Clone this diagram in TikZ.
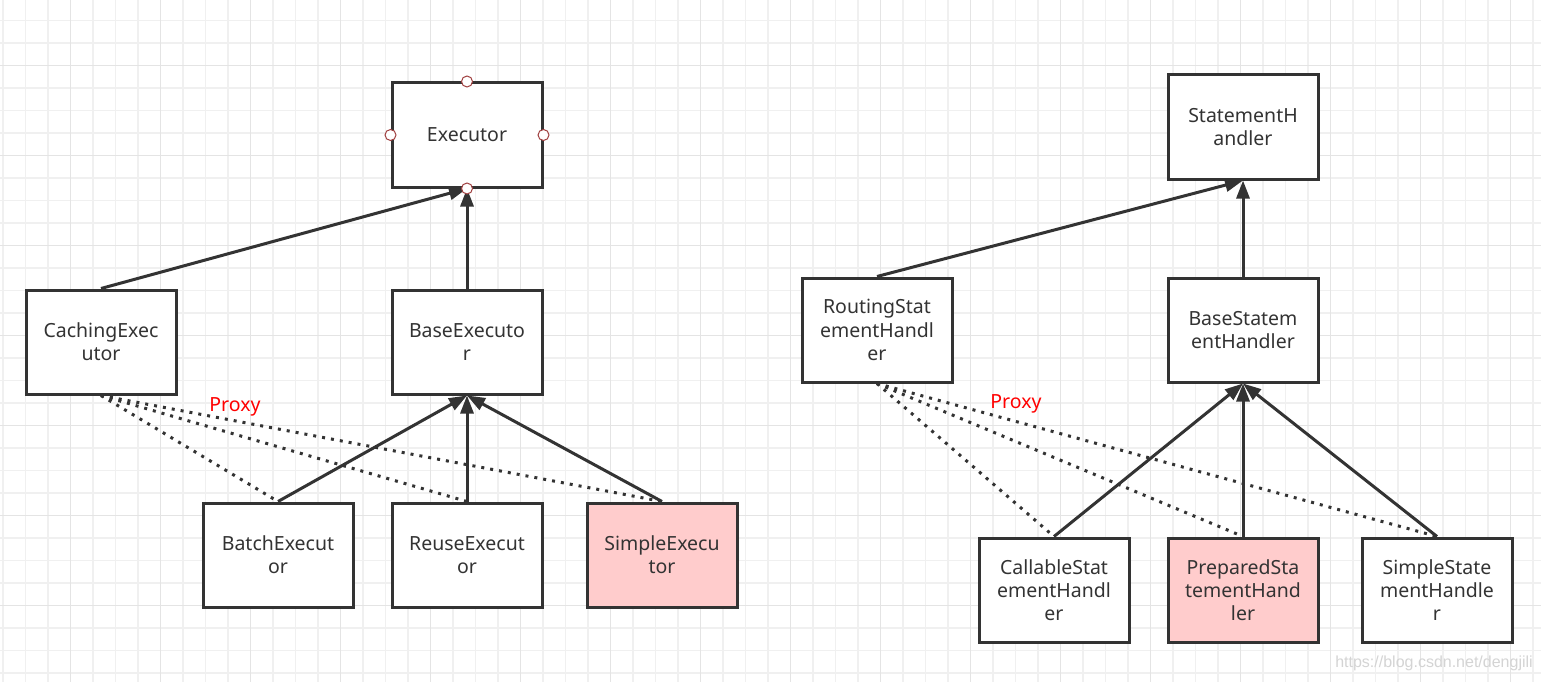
\documentclass[tikz,border=0pt]{standalone}
\usepackage{fontspec}
\setmainfont{Noto Sans}
\newfontfamily\wmfont{Liberation Sans}
\usetikzlibrary{arrows.meta}
\definecolor{ink}{HTML}{333333}
\definecolor{pinkfill}{HTML}{FFCCCC}
\definecolor{gridminor}{HTML}{F0F0F0}
\definecolor{gridmajor}{HTML}{E4E4E4}
\definecolor{portred}{HTML}{A04040}
\begin{document}
\begin{tikzpicture}[x=1pt,y=-1pt,
  box/.style={draw=ink, line width=3pt, fill=white, minimum width=150pt, minimum height=104pt,
    text=ink, font=\fontsize{19.5}{23.3}\selectfont, align=center, inner sep=0pt},
  pinkbox/.style={box, fill=pinkfill},
  inherit/.style={draw=ink, line width=3pt, -{Triangle[length=18pt,width=13pt]}},
  proxyline/.style={draw=ink, line width=3pt, dash pattern=on 3pt off 6pt},
  lbl/.style={text=red, font=\fontsize{19.5}{23}\selectfont, inner sep=0pt},
  port/.style={circle, draw=portred, fill=white, line width=1pt, minimum size=11pt, inner sep=0pt},
  wm/.style={text=black!17, font=\wmfont\fontsize{16}{18}\selectfont, inner sep=0pt}]
\useasboundingbox (0,0) rectangle (1541,682);
\fill[white] (0,0) rectangle (1541,682);
% grid
\foreach \i in {0,...,68} {\draw[gridminor, line width=1.5pt] ({3.2+22.5*\i},0) -- ({3.2+22.5*\i},682);}
\foreach \j in {-1,...,29} {\draw[gridminor, line width=1.5pt] (0,{20.7+22.5*\j}) -- (1541,{20.7+22.5*\j});}
\foreach \i in {-1,...,16} {\draw[gridmajor, line width=1.5pt] ({70.7+90*\i},0) -- ({70.7+90*\i},682);}
\foreach \j in {-1,...,7} {\draw[gridmajor, line width=1.5pt] (0,{65.7+90*\j}) -- (1541,{65.7+90*\j});}

% left diagram
\node[box] (exec) at (467,135) {Executor};
\node[box] (cach) at (101,342) {CachingExec\\utor};
\node[box] (base) at (467,342) {BaseExecuto\\r};
\node[box] (batch) at (278,555) {BatchExecut\\or};
\node[box] (reuse) at (467,555) {ReuseExecut\\or};
\node[pinkbox] (simple) at (662,555) {SimpleExecu\\tor};

\draw[inherit] (cach.north) -- (exec.south);
\draw[inherit] (base.north) -- (exec.south);
\draw[proxyline] (cach.south) -- (batch.north);
\draw[proxyline] (cach.south) -- (reuse.north);
\draw[proxyline] (cach.south) -- (simple.north);
\draw[inherit] (batch.north) -- (base.south);
\draw[inherit] (reuse.north) -- (base.south);
\draw[inherit] (simple.north) -- (base.south);
\node[lbl] (proxyL) at (235,407) {Proxy};

\node[port] (pn) at (exec.north) {};
\node[port] (pw) at (exec.west) {};
\node[port] (pe) at (exec.east) {};
\node[port] (ps) at (exec.south) {};

% right diagram
\node[box] (sh) at (1243,127) {StatementH\\andler};
\node[box] (rout) at (877,330) {RoutingStat\\ementHandl\\er};
\node[box] (bsh) at (1243,330) {BaseStatem\\entHandler};
\node[box] (call) at (1054,590) {CallableStat\\ementHandl\\er};
\node[pinkbox] (prep) at (1243,590) {PreparedSta\\tementHand\\ler};
\node[box] (ssh) at (1437,590) {SimpleState\\mentHandle\\r};

\draw[inherit] (rout.north) -- (sh.south);
\draw[inherit] (bsh.north) -- (sh.south);
\draw[proxyline] (rout.south) -- (call.north);
\draw[proxyline] (rout.south) -- (prep.north);
\draw[proxyline] (rout.south) -- (ssh.north);
\draw[inherit] (call.north) -- (bsh.south);
\draw[inherit] (prep.north) -- (bsh.south);
\draw[inherit] (ssh.north) -- (bsh.south);
\node[lbl] (proxyR) at (1016,404) {Proxy};

\node[wm] (mark) at (1434,663) {https://blog.csdn.net/dengjili};
\end{tikzpicture}
\end{document}
